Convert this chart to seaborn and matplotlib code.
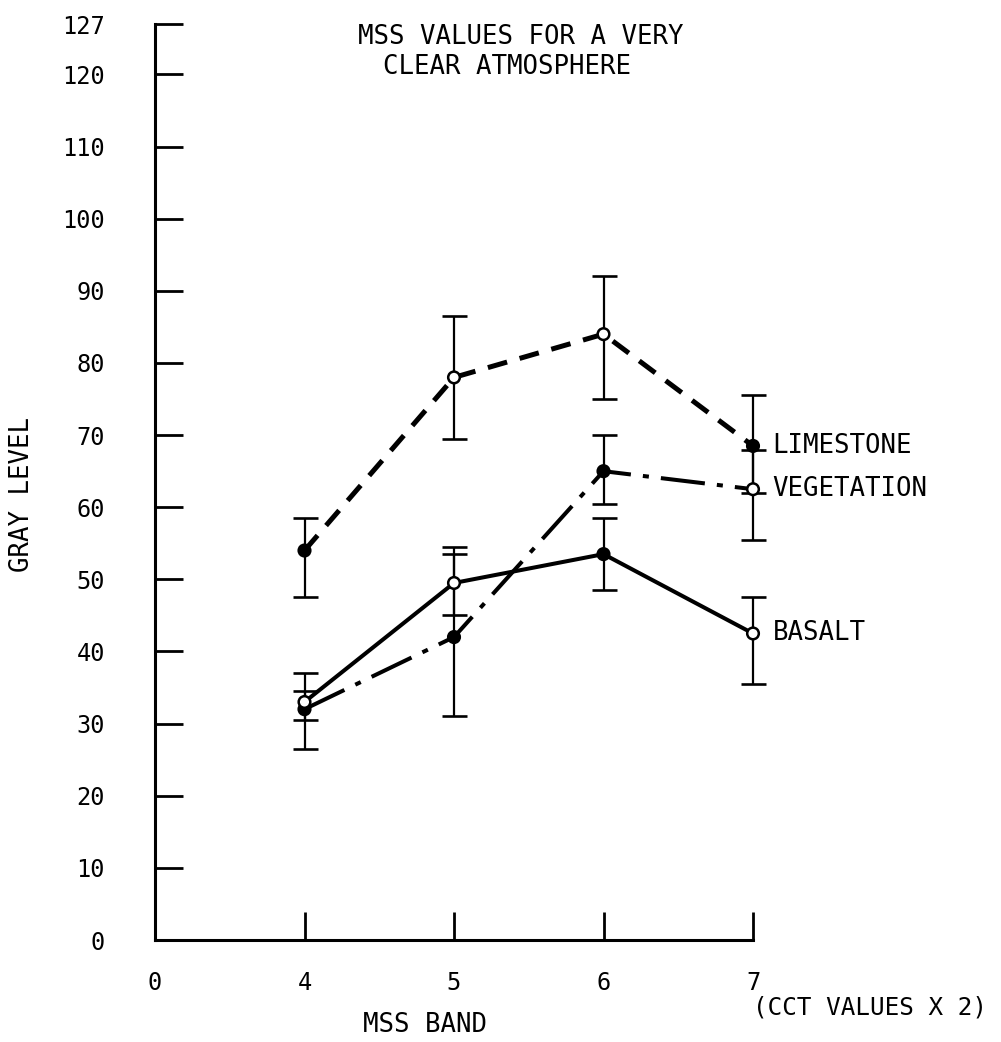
import matplotlib
matplotlib.use("Agg")
import matplotlib.pyplot as plt
import numpy as np
import pandas as pd
import seaborn as sns

# MSS bands 4-7, gray level values
bands = ["4", "5", "6", "7"]
x_labels = ["0", "4", "5", "6", "7"]
y_ticks = [0, 10, 20, 30, 40, 50, 60, 70, 80, 90, 100, 110, 120, 127]

limestone = [54, 78, 84, 68.5]
limestone_low = [47.5, 69.5, 75, 62]
limestone_high = [58.5, 86.5, 92, 75.5]
limestone_filled = [True, False, False, True]

vegetation = [32, 42, 65, 62.5]
vegetation_low = [26.5, 31, 60.5, 55.5]
vegetation_high = [37, 53.5, 70, 68]
vegetation_filled = [True, True, True, False]

basalt = [33, 49.5, 53.5, 42.5]
basalt_low = [30.5, 45, 48.5, 35.5]
basalt_high = [34.5, 54.5, 58.5, 47.5]
basalt_filled = [False, False, True, False]

sns.set_style("white")
plt.rcParams["font.family"] = ["DejaVu Sans Mono", "DejaVu Sans"]
plt.rcParams["text.color"] = "black"
plt.rcParams["xtick.color"] = "black"
plt.rcParams["ytick.color"] = "black"
FS = 18.5
TICK_FS = 17

fig = plt.figure(figsize=(10.01, 10.42), dpi=100)
ax = fig.add_axes([155 / 1001, (1042 - 940) / 1042, 598 / 1001, 916 / 1042])

# band positions on the drawn axis: 0 at the origin, then bands 1..4
xpos = np.arange(1, len(bands) + 1)

series = [
    ("LIMESTONE", limestone, limestone_low, limestone_high, limestone_filled,
     (0, (4, 2.6)), 3.6),
    ("VEGETATION", vegetation, vegetation_low, vegetation_high, vegetation_filled,
     (0, (11, 3, 1.5, 3)), 2.9),
    ("BASALT", basalt, basalt_low, basalt_high, basalt_filled, "-", 2.9),
]

for name, vals, low, high, filled, ls, lw in series:
    df = pd.DataFrame({"x": xpos, "y": vals})
    sns.lineplot(data=df, x="x", y="y", color="black", linestyle=ls,
                 linewidth=lw, ax=ax, clip_on=False)
    yerr = [np.array(vals) - np.array(low), np.array(high) - np.array(vals)]
    eb = ax.errorbar(xpos, vals, yerr=yerr, fmt="none", ecolor="black",
                     elinewidth=1.6, capsize=9, capthick=1.9, zorder=3)
    for art in eb.lines[1] + eb.lines[2]:
        art.set_clip_on(False)
    fc = ["black" if f else "white" for f in filled]
    ax.scatter(xpos, vals, s=70, facecolors=fc, edgecolors="black",
               linewidths=1.8, zorder=4, clip_on=False)
    ax.annotate(name, (xpos[-1], vals[-1]), xytext=(14, 0),
                textcoords="offset points", va="center", ha="left",
                fontsize=FS)

ax.set_xlim(0, 4)
ax.set_ylim(0, 127)
ax.set_xticks(np.arange(len(x_labels)))
ax.set_xticklabels(x_labels, fontsize=TICK_FS)
ax.set_yticks(y_ticks)
ax.set_yticklabels([str(v) for v in y_ticks], fontsize=TICK_FS)
ax.tick_params(axis="y", direction="in", length=20, width=2, pad=36,
               left=True)
ax.tick_params(axis="x", direction="in", length=20, width=2, pad=22,
               bottom=True)
ax.xaxis.get_major_ticks()[0].tick1line.set_visible(False)
ax.yaxis.get_major_ticks()[0].tick1line.set_visible(False)

for side in ["top", "right"]:
    ax.spines[side].set_visible(False)
for side in ["left", "bottom"]:
    ax.spines[side].set_linewidth(2.2)
    ax.spines[side].set_color("black")

ax.set_xlabel("")
ax.set_ylabel("")
fig.text(425 / 1001, 1 - 1025 / 1042, "MSS BAND", fontsize=FS,
         ha="center", va="center")
fig.text(22 / 1001, 1 - 495 / 1042, "GRAY LEVEL", fontsize=FS,
         ha="center", va="center", rotation=90)

fig.text(753 / 1001, 1 - 1008 / 1042, "(CCT VALUES X 2)", fontsize=17.5,
         ha="left", va="center")
ax.text(0.339, 0.986, "MSS VALUES FOR A VERY", transform=ax.transAxes,
        fontsize=FS, ha="left", va="center")
ax.text(0.381, 0.953, "CLEAR ATMOSPHERE", transform=ax.transAxes,
        fontsize=FS, ha="left", va="center")

fig.savefig("out.png", dpi=100)
